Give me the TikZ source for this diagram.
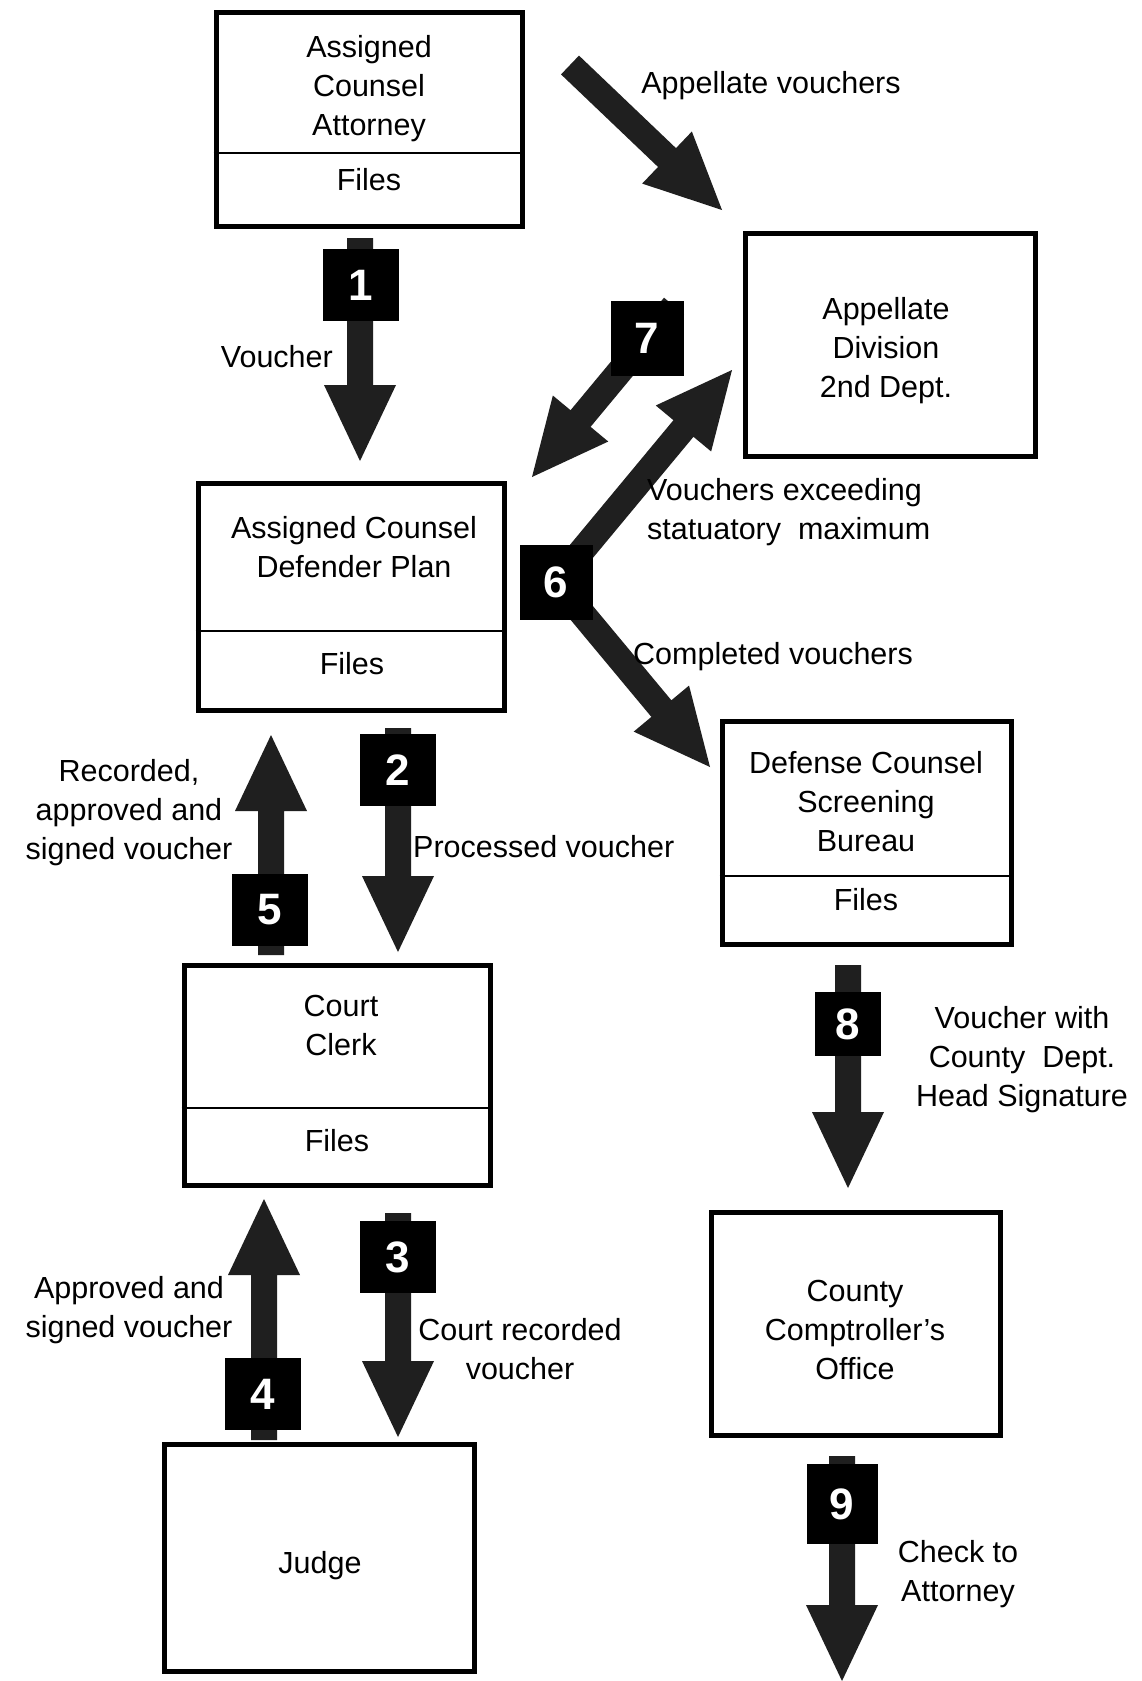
\documentclass[tikz,border=0pt]{standalone}
\usepackage{fontspec}
\setmainfont{Liberation Sans}
\usetikzlibrary{calc}

% geometry of the block arrows
\newcommand\shafthalf{13pt}
\newcommand\headhalf{36pt}
\newcommand\headlen{76pt}

% block arrow from #1 to #2 (tip at #2)
\newcommand\fatarrow[2]{%
  \coordinate (fahead) at ($(#2)!\headlen!(#1)$);
  \fill[arrowfill]
    ($(#1)!\shafthalf!90:(#2)$) --
    ($(fahead)!\shafthalf!90:(#2)$) --
    ($(fahead)!\headhalf!90:(#2)$) --
    (#2) --
    ($(fahead)!\headhalf!-90:(#2)$) --
    ($(fahead)!\shafthalf!-90:(#2)$) --
    ($(#1)!\shafthalf!-90:(#2)$) -- cycle;}

\tikzset{
  box/.style={draw=black, line width=5pt, rectangle, inner sep=0pt},
  divider/.style={draw=black, line width=2.5pt},
  txt/.style={font=\fontsize{30.5}{39}\selectfont, align=center, inner sep=0pt},
  badge/.style={fill=black, text=white, font=\fontsize{44}{44}\selectfont\bfseries,
    minimum width=76pt, minimum height=72pt, inner sep=0pt},
  arrowfill/.style={fill=black!88},
}

\begin{document}
\begin{tikzpicture}[x=1pt, y=-1pt]
\useasboundingbox (0,0) rectangle (1142,1681);
\fill[white] (0,0) rectangle (1142,1681);

% ---- boxes ----
\node[box, minimum width=306pt, minimum height=214pt] (aca) at (369,119) {};
\node[txt] (acaT) at (369,89) {Assigned\\Counsel\\Attorney};
\draw[divider] (aca.west |- 0,153) -- (aca.east |- 0,153);
\node[txt] (acaF) at (369,180) {Files};

\node[box, minimum width=290pt, minimum height=223pt] (appdiv) at (890,344.5) {};
\node[txt] (appdivT) at (886,351) {Appellate\\Division\\2nd Dept.};

\node[box, minimum width=306pt, minimum height=227pt] (acdp) at (351,596.5) {};
\node[txt] (acdpT) at (354,547) {Assigned Counsel\\Defender Plan};
\draw[divider] (acdp.west |- 0,631) -- (acdp.east |- 0,631);
\node[txt] (acdpF) at (352,664) {Files};

\node[box, minimum width=289pt, minimum height=223pt] (dcsb) at (866.5,832.5) {};
\node[txt] (dcsbT) at (866,802) {Defense Counsel\\Screening\\Bureau};
\draw[divider] (dcsb.west |- 0,876) -- (dcsb.east |- 0,876);
\node[txt] (dcsbF) at (866,900) {Files};

\node[box, minimum width=306pt, minimum height=220pt] (clerk) at (337,1075) {};
\node[txt] (clerkT) at (341,1025) {Court\\Clerk};
\draw[divider] (clerk.west |- 0,1108) -- (clerk.east |- 0,1108);
\node[txt] (clerkF) at (337,1141) {Files};

\node[box, minimum width=289pt, minimum height=223pt] (compt) at (855.5,1323.5) {};
\node[txt] (comptT) at (855,1330) {County\\Comptroller's\\Office};

\node[box, minimum width=310pt, minimum height=227pt] (judge) at (319,1557.5) {};
\node[txt] (judgeT) at (320,1566) {Judge};

% ---- arrow end points ----
\coordinate (avS) at (570,65);   \coordinate (avE) at (722,210);
\coordinate (a1S) at (360,238);  \coordinate (a1E) at (360,461);
\coordinate (a2S) at (398,728);  \coordinate (a2E) at (398,952);
\coordinate (a3S) at (398,1213); \coordinate (a3E) at (398,1437);
\coordinate (a4S) at (264,1440); \coordinate (a4E) at (264,1199);
\coordinate (a5S) at (271,955);  \coordinate (a5E) at (271,735);
\coordinate (a6S) at (556,582);  \coordinate (a6U) at (732,370);
\coordinate (a6D) at (710,767);
\coordinate (a7S) at (674,306);  \coordinate (a7E) at (532,477);
\coordinate (a8S) at (848,965);  \coordinate (a8E) at (848,1188);
\coordinate (a9S) at (842,1456); \coordinate (a9E) at (842,1681);

% ---- block arrows ----
\fatarrow{avS}{avE}
\fatarrow{a1S}{a1E}
\fatarrow{a2S}{a2E}
\fatarrow{a3S}{a3E}
\fatarrow{a4S}{a4E}
\fatarrow{a5S}{a5E}
\fatarrow{a6S}{a6U}
\fatarrow{a6S}{a6D}
\fatarrow{a7S}{a7E}
\fatarrow{a8S}{a8E}
\fatarrow{a9S}{a9E}

% ---- step numbers ----
\node[badge] (b1) at (361,285) {1};
\node[badge] (b2) at (398,770) {2};
\node[badge] (b3) at (398,1257) {3};
\node[badge] (b4) at (263,1394) {4};
\node[badge] (b5) at (270,910) {5};
\node[badge, minimum width=73pt, minimum height=75pt] (b6) at (556,582) {6};
\node[badge, minimum width=73pt, minimum height=75pt] (b7) at (647,338) {7};
\node[badge, minimum width=66pt, minimum height=64pt] (b8) at (848,1024) {8};
\node[badge, minimum width=71pt, minimum height=80pt] (b9) at (842,1504) {9};

% ---- arrow labels ----
\node[txt] (lAppv) at (771,86) {Appellate vouchers};
\node[txt, anchor=east] (lVoucher) at (333,357) {Voucher};
\node[txt, anchor=west, align=left] (lExceed) at (647,512) {Vouchers exceeding\\statuatory\ \ maximum};
\node[txt, anchor=west] (lCompleted) at (633,657) {Completed vouchers};
\node[txt] (lRecorded) at (129,813) {Recorded,\\approved and\\signed voucher};
\node[txt, anchor=west] (lProcessed) at (413,847) {Processed voucher};
\node[txt] (lApproved) at (129,1310) {Approved and\\signed voucher};
\node[txt] (lCourtRec) at (520,1349) {Court recorded\\voucher};
\node[txt] (lVwith) at (1022,1060) {Voucher with\\County\ \ Dept.\\Head Signature};
\node[txt] (lCheck) at (958,1574) {Check to\\Attorney};
\end{tikzpicture}
\end{document}
